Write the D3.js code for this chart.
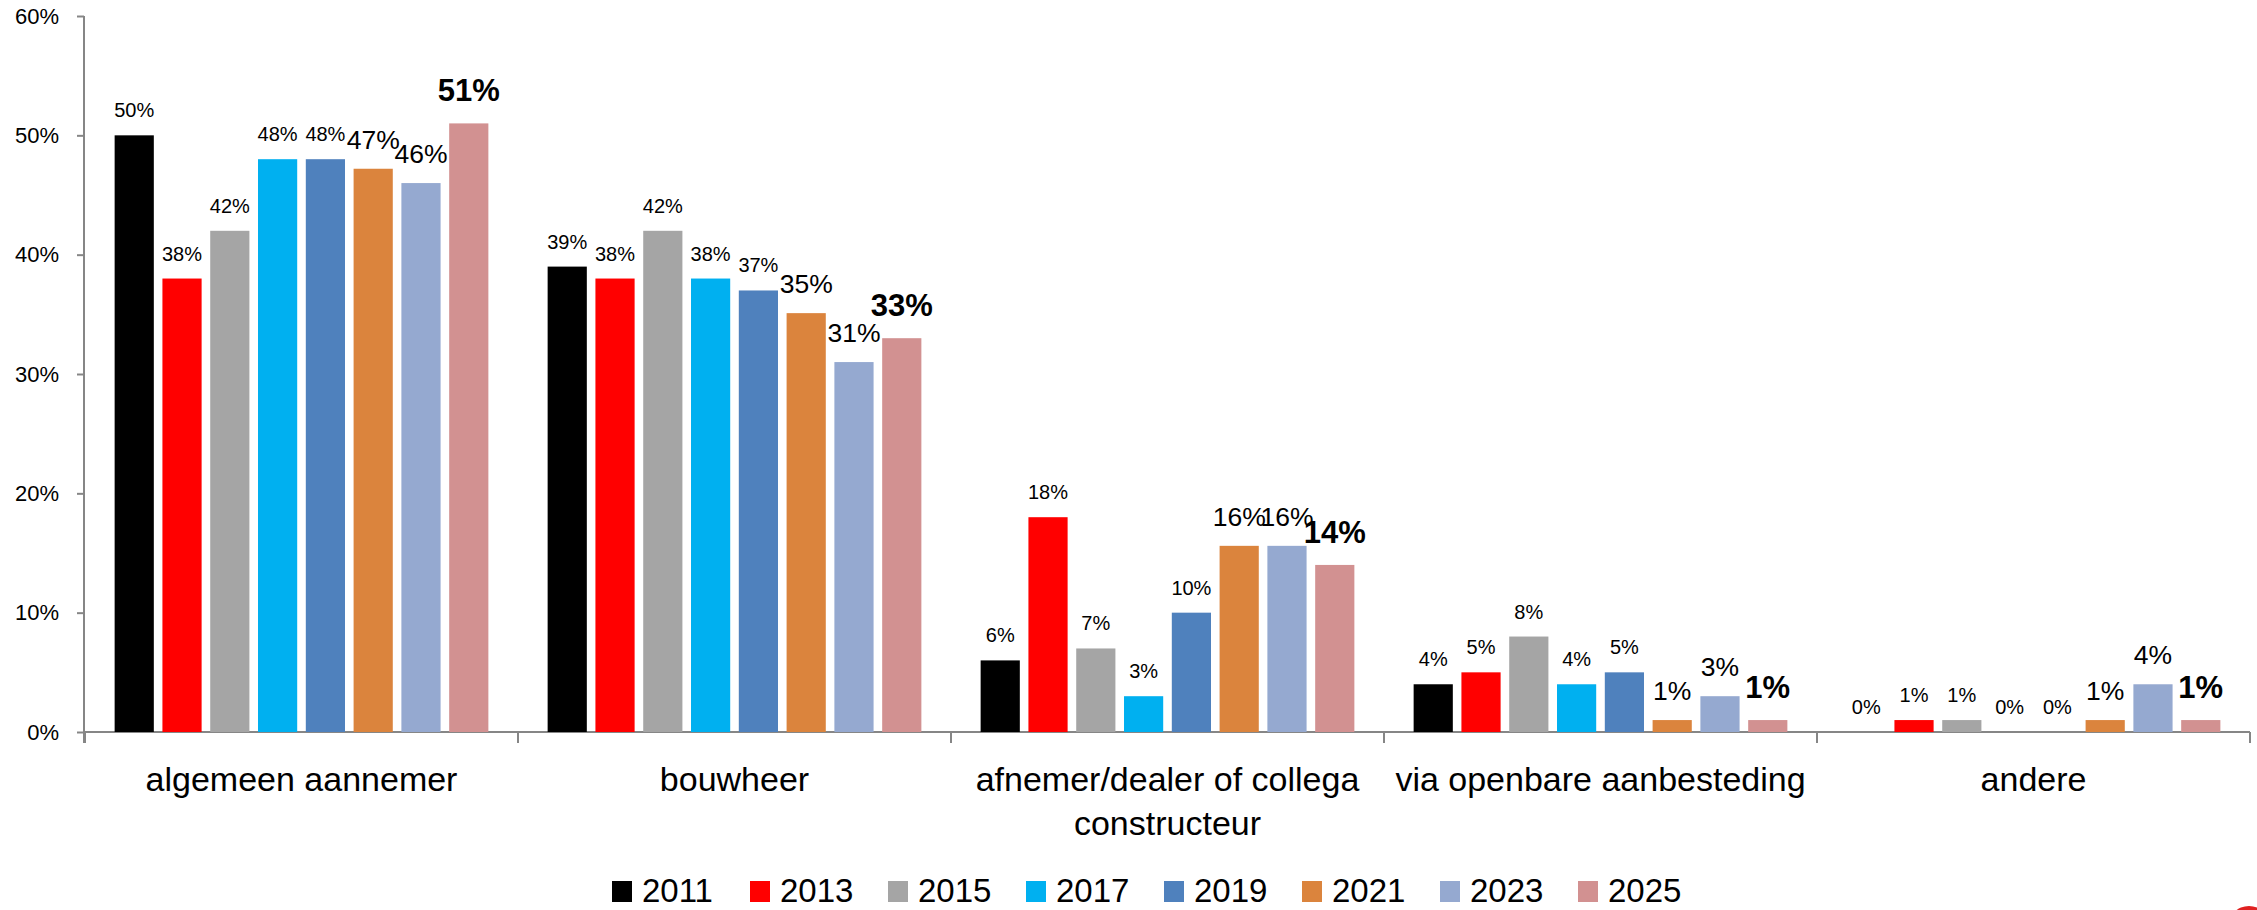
<!DOCTYPE html>
<html>
<head>
<meta charset="utf-8">
<script src="https://cdn.jsdelivr.net/npm/d3@7"></script>
<style>
  body { margin: 0; background: #fff; }
  svg { display: block; font-family: "Liberation Sans", Arial, sans-serif; }
  .axis path { display: none; }
  .axis line { stroke: #868686; stroke-width: 2; }
  .axis text { fill: #000; }
</style>
</head>
<body>
<svg width="2257" height="910"></svg>
<script>
// categories and years
var categories = ["algemeen aannemer", "bouwheer", "afnemer/dealer of collega constructeur", "via openbare aanbesteding", "andere"];
var years = ["2011", "2013", "2015", "2017", "2019", "2021", "2023", "2025"];

// values per year (fractions), one entry per category
var v2011 = [0.50, 0.39, 0.06, 0.04, 0.00];
var v2013 = [0.38, 0.38, 0.18, 0.05, 0.01];
var v2015 = [0.42, 0.42, 0.07, 0.08, 0.01];
var v2017 = [0.48, 0.38, 0.03, 0.04, 0.00];
var v2019 = [0.48, 0.37, 0.10, 0.05, 0.00];
var v2021 = [0.472, 0.351, 0.156, 0.01, 0.01];
var v2023 = [0.46, 0.31, 0.156, 0.03, 0.04];
var v2025 = [0.51, 0.33, 0.14, 0.01, 0.01];
var yTicks = [0, 0.1, 0.2, 0.3, 0.4, 0.5, 0.6];

var series = [v2011, v2013, v2015, v2017, v2019, v2021, v2023, v2025];
var colors = ["#000000", "#FF0000", "#A5A5A5", "#00B0F0", "#4F81BD", "#DB843D", "#95A9D0", "#D29191"];
var labelSize = [20, 20, 20, 20, 20, 26.5, 26.5, 31];

var svg = d3.select("svg");
var fmt = d3.format(".0%");

var y = d3.scaleLinear().domain([0, 0.6]).range([732, 16]);
var x0 = d3.scaleBand().domain(categories).range([85, 2250]);
var x1 = d3.scaleBand().domain(years)
            .range([0, x0.bandwidth()])
            .paddingInner(0.18)
            .paddingOuter(0.62);

// y axis
var gy = svg.append("g")
  .attr("class", "axis")
  .attr("transform", "translate(84,0)")
  .call(d3.axisLeft(y).tickValues(yTicks).tickFormat(fmt).tickSize(7).tickPadding(18));
gy.selectAll("text").style("font-size", "22px");
svg.append("line")
  .attr("x1", 84).attr("x2", 84)
  .attr("y1", y(0.6)).attr("y2", y(0) + 11)
  .attr("stroke", "#868686").attr("stroke-width", 2);

// x axis
var gx = svg.append("g")
  .attr("class", "axis")
  .attr("transform", "translate(0," + y(0) + ")")
  .call(d3.axisBottom(x0).tickSize(0));
gx.selectAll("text")
  .attr("y", 59).attr("dy", null)
  .style("font-size", "34px")
  .each(function (d) {
    var t = d3.select(this);
    var words = d.split(" ");
    t.text(null);
    var line = [];
    var tspan = t.append("tspan").attr("x", 0);
    words.forEach(function (w) {
      line.push(w);
      tspan.text(line.join(" "));
      if (tspan.node().getComputedTextLength() > 425 && line.length > 1) {
        line.pop();
        tspan.text(line.join(" "));
        line = [w];
        tspan = t.append("tspan").attr("x", 0).attr("dy", 44).text(w);
      }
    });
  });
svg.append("line")
  .attr("x1", 84).attr("x2", 2250)
  .attr("y1", y(0)).attr("y2", y(0))
  .attr("stroke", "#868686").attr("stroke-width", 2);
svg.append("g").selectAll("line")
  .data(categories.concat(["end"]))
  .enter().append("line")
    .attr("x1", (d, i) => i < categories.length ? x0(d) : x0.range()[1])
    .attr("x2", (d, i) => i < categories.length ? x0(d) : x0.range()[1])
    .attr("y1", y(0)).attr("y2", y(0) + 11)
    .attr("stroke", "#868686").attr("stroke-width", 2);

// bars
var groups = svg.append("g").selectAll("g")
  .data(categories)
  .enter().append("g")
    .attr("transform", d => "translate(" + x0(d) + ",0)");

groups.selectAll("rect")
  .data((d, ci) => years.map((yr, si) => ({ yr: yr, si: si, v: series[si][ci] })))
  .enter().append("rect")
    .attr("x", d => x1(d.yr))
    .attr("y", d => y(d.v))
    .attr("width", x1.bandwidth())
    .attr("height", d => y(0) - y(d.v))
    .attr("fill", d => colors[d.si]);

groups.selectAll("text")
  .data((d, ci) => years.map((yr, si) => ({ yr: yr, si: si, v: series[si][ci] })))
  .enter().append("text")
    .attr("x", d => x1(d.yr) + x1.bandwidth() / 2)
    .attr("y", d => y(d.v) - (d.si === 7 ? 22 : d.si >= 5 ? 20 : 18))
    .attr("text-anchor", "middle")
    .style("font-size", d => labelSize[d.si] + "px")
    .style("font-weight", d => d.si === 7 ? "bold" : "normal")
    .text(d => fmt(d.v));

// legend
var legend = svg.append("g").selectAll("g")
  .data(years)
  .enter().append("g")
    .attr("transform", (d, i) => "translate(" + (612 + i * 138) + ",881)");
legend.append("rect")
  .attr("width", 20).attr("height", 21)
  .attr("fill", (d, i) => colors[i]);
legend.append("text")
  .attr("x", 30).attr("y", 21)
  .style("font-size", "33px")
  .text(d => d);

// small red mark in the corner
svg.append("circle")
  .attr("cx", 2249).attr("cy", 927).attr("r", 21)
  .attr("fill", "#E02020");
</script>
</body>
</html>
